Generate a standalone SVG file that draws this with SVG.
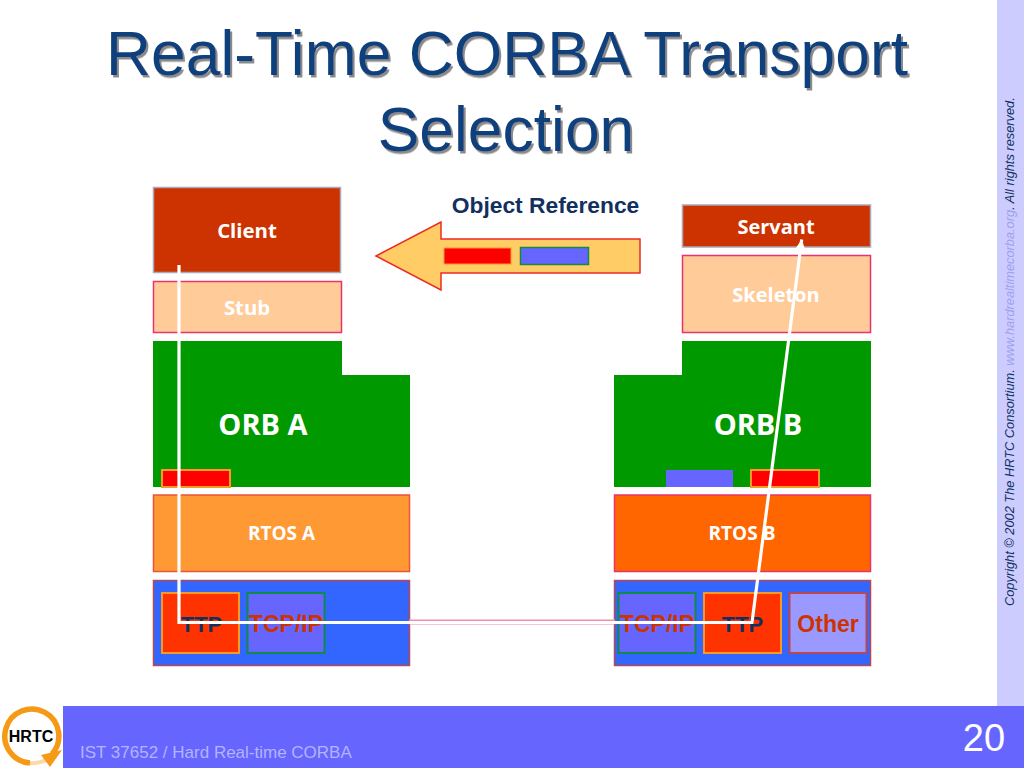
<svg xmlns="http://www.w3.org/2000/svg" width="1024" height="768" viewBox="0 0 1024 768">
<defs>
<marker id="ah" markerUnits="userSpaceOnUse" markerWidth="10" markerHeight="10" refX="9" refY="4.500" orient="auto"><path d="M0 0L9 4.500L0 9Z" fill="#fff"/></marker>
<filter id="sh" x="-5%" y="-5%" width="110%" height="115%"><feDropShadow dx="2" dy="2.500" stdDeviation="0.600" flood-color="#8a8a8a"/></filter>
</defs>
<style>
text{font-family:"Liberation Sans",Arial,sans-serif}
.t{font-size:62.4px;fill:#0f3f7c;text-anchor:middle;filter:url(#sh)}
.w{font-family:"Open Sans","DejaVu Sans",sans-serif;font-weight:700;fill:#fff;text-anchor:middle}
.b{font-weight:700;font-size:23px;text-anchor:middle}
.navy{fill:#12305f;font-size:22px}.red{fill:#cc3300}
.tcp{fill:#6666ff;stroke:#0e8a4a;stroke-width:2}
.ttp{fill:#ff3300;stroke:#f59a23;stroke-width:2}
.rb{fill:#ff0000;stroke:#f59a23;stroke-width:2}
.blue{fill:#3366ff;stroke:#b8474f;stroke-width:1.5}
.green{fill:#009900}
.dark{fill:#cc3300;stroke:#a9a9b8;stroke-width:1.5}
.peach{fill:#ffcc99;stroke:#e8336d;stroke-width:1.5}
</style>
<rect id="sidebar" x="997" y="0" width="27" height="706" fill="#ccccff"/>
<rect id="footer" x="63" y="706" width="961" height="62" fill="#6666ff"/>
<text x="507" y="75" class="t">Real-Time CORBA Transport</text>
<text x="506" y="151" class="t">Selection</text>
<text transform="translate(1014 606) rotate(-90)" font-size="12.8" font-style="italic" fill="#12305f">Copyright © 2002 The HRTC Consortium. <tspan fill="#a0a0f0">www.hardrealtimecorba.org</tspan>. All rights reserved.</text>
<text x="80" y="758" font-size="17" fill="#b3b3ff">IST 37652 / Hard Real-time CORBA</text>
<text x="984" y="751" font-size="38" fill="#fff" text-anchor="middle">20</text>
<g id="logo">
<path d="M30 763A27 27 0 0 0 46 760" fill="none" stroke="#fbd9a8" stroke-width="4"/>
<path d="M30 763A27 27 0 1 1 52 754" fill="none" stroke="#f59a16" stroke-width="5.500"/>
<path d="M41 755L62 750L50 767Z" fill="#f59a16"/>
<text x="31" y="742" font-size="16" font-weight="700" fill="#000" text-anchor="middle">HRTC</text>
</g>
<g id="client"><rect class="dark" x="153.500" y="187.500" width="187" height="85"/><text class="w" x="247" y="238" font-size="20.400">Client</text></g>
<g id="stub"><rect class="peach" x="153.500" y="281.500" width="188" height="51"/><text class="w" x="247" y="315" font-size="20.300">Stub</text></g>
<g id="orb-a"><path class="green" d="M153 341H342V375H410V487H153Z"/><text class="w" x="263" y="435" font-size="29">ORB A</text><rect class="rb" x="162" y="470" width="68" height="17"/></g>
<g id="rtos-a"><rect x="153.500" y="495" width="256" height="76.500" fill="#ff9933" stroke="#e8553a" stroke-width="1.500"/><text class="w" x="281.500" y="540" font-size="19">RTOS A</text></g>
<g id="net-a"><rect class="blue" x="153.500" y="580.500" width="256" height="85"/>
<rect class="ttp" x="162" y="593" width="77" height="60"/><text class="b navy" x="201.500" y="632">TTP</text>
<rect class="tcp" x="247.500" y="593" width="77" height="60"/><text class="b red" x="286" y="632">TCP/IP</text></g>
<g id="servant"><rect class="dark" x="682.500" y="205" width="188" height="42"/><text class="w" x="776" y="234" font-size="20">Servant</text></g>
<g id="skeleton"><rect class="peach" x="682.500" y="255.500" width="188" height="77"/><text class="w" x="776" y="302" font-size="20">Skeleton</text></g>
<g id="orb-b"><path class="green" d="M682 341H871V487H614V375H682Z"/><text class="w" x="758" y="435" font-size="29">ORB B</text><rect x="666" y="470" width="67" height="17" fill="#6666ff"/><rect class="rb" x="751" y="470" width="68" height="17"/></g>
<g id="rtos-b"><rect x="614.500" y="495" width="256" height="76.500" fill="#ff6600" stroke="#e8336d" stroke-width="1.500"/><text class="w" x="742" y="540" font-size="19">RTOS B</text></g>
<g id="net-b"><rect class="blue" x="614.500" y="580.500" width="256" height="85"/>
<rect class="tcp" x="618.500" y="593" width="77" height="60"/><text class="b red" x="657" y="632">TCP/IP</text>
<rect class="ttp" x="704" y="593" width="77" height="60"/><text class="b navy" x="742.500" y="632">TTP</text>
<rect x="789.500" y="593" width="77" height="60" fill="#9999ff" stroke="#b8474f" stroke-width="2"/><text class="b red" x="828" y="632">Other</text></g>
<g id="object-reference"><text x="545.500" y="213" font-size="22.800" font-weight="700" fill="#12305f" text-anchor="middle">Object Reference</text>
<path d="M376 256L441 222V239H640V273H441V290Z" fill="#ffcc66" stroke="#ee2b24" stroke-width="1.500"/>
<rect x="444" y="248" width="67" height="16" fill="#ff0000" stroke="#f59a23"/><rect x="520.500" y="247.500" width="68" height="17" class="tcp" style="stroke-width:1.500"/></g>
<g id="connectors" fill="none">
<path d="M409 622H615" stroke="#ef8fa8" stroke-width="5"/>
<path d="M179 265V622.500H752L801.700 239.500" stroke="#fff" stroke-width="3.200" marker-end="url(#ah)"/>
</g>
</svg>
